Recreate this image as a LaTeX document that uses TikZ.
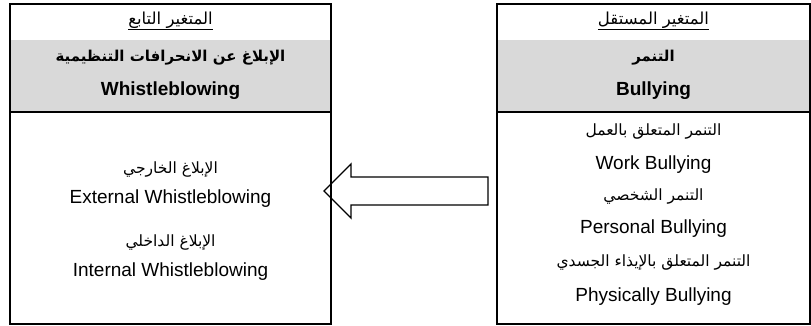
\documentclass[tikz,border=0pt]{standalone}
\usepackage{fontspec}
\setmainfont{Liberation Sans}
\newfontfamily\arabicfont[Script=Arabic]{DejaVu Sans}
\TeXXeTstate=1
\definecolor{bandgray}{HTML}{D9D9D9}
\tikzset{
  frame/.style={draw=black, line width=2.2pt},
  band/.style={fill=bandgray, draw=none},
  sep/.style={draw=black, line width=2.2pt},
  latin/.style={font=\fontsize{19}{22}\selectfont, inner sep=0pt, anchor=center},
  latinb/.style={font=\fontsize{19}{22}\selectfont\bfseries, inner sep=0pt, anchor=center},
  arabh/.style={font=\fontsize{16.5}{19}\selectfont\arabicfont, inner sep=0pt, anchor=center},
  arab/.style={font=\fontsize{15.5}{19}\selectfont\arabicfont, inner sep=0pt, anchor=center},
  arabb/.style={font=\fontsize{15}{18}\selectfont\arabicfont\bfseries, inner sep=0pt, anchor=center},
  blockarrow/.style={draw=black, line width=1.4pt, line join=miter}
}
\begin{document}
\begin{tikzpicture}[x=1pt,y=-1pt]
\useasboundingbox (0,0) rectangle (811,326);
% left box
\fill[band] (10,40) rectangle (331,112);
\draw[sep] (10,112) -- (331,112);
\node[frame, minimum width=321pt, minimum height=320pt, inner sep=0pt] (lbox) at (170.5,164) {};
% right box
\fill[band] (497,40) rectangle (810,112);
\draw[sep] (497,112) -- (810,112);
\node[frame, minimum width=313pt, minimum height=320pt, inner sep=0pt] (rbox) at (653.5,164) {};
% left texts
\node[arabh] (lh) at (170.5,21) {\underline{\beginR المتغير التابع\endR}};
\node[arabb] (lt) at (170.5,58) {\beginR الإبلاغ عن الانحرافات التنظيمية\endR};
\node[latinb] (le) at (170.5,91) {Whistleblowing};
\node[arab] (l1) at (170.5,170) {\beginR الإبلاغ الخارجي\endR};
\node[latin] (l2) at (170.5,199) {External Whistleblowing};
\node[arab] (l3) at (170.5,243) {\beginR الإبلاغ الداخلي\endR};
\node[latin] (l4) at (170.5,272) {Internal Whistleblowing};
% right texts
\node[arabh] (rh) at (653.5,21) {\underline{\beginR المتغير المستقل\endR}};
\node[arabb] (rt) at (653.5,58) {\beginR التنمر\endR};
\node[latinb] (re) at (653.5,91) {Bullying};
\node[arab] (r1) at (653.5,132) {\beginR التنمر المتعلق بالعمل\endR};
\node[latin] (r2) at (653.5,165) {Work Bullying};
\node[arab] (r3) at (653.5,197) {\beginR التنمر الشخصي\endR};
\node[latin] (r4) at (653.5,229) {Personal Bullying};
\node[arab] (r5) at (653.5,263) {\beginR التنمر المتعلق بالإيذاء الجسدي\endR};
\node[latin] (r6) at (653.5,297) {Physically Bullying};
% block arrow
\draw[blockarrow] (324,191) -- (351,164) -- (351,177) -- (488,177) -- (488,205) -- (351,205) -- (351,218) -- cycle;
\end{tikzpicture}
\end{document}
